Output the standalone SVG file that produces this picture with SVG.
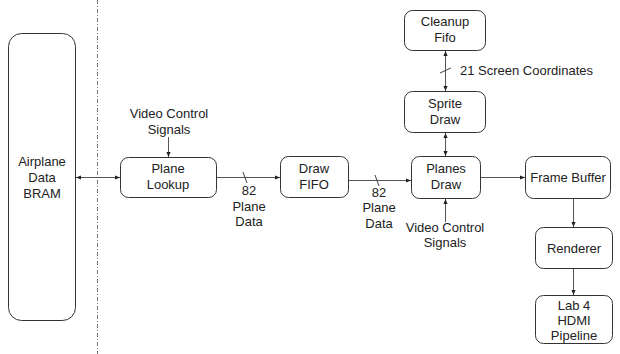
<svg xmlns="http://www.w3.org/2000/svg" width="620" height="354" viewBox="0 0 620 354">
<defs>
<marker id="ah" viewBox="0 0 6 6" refX="6" refY="3" markerWidth="5" markerHeight="5" orient="auto-start-reverse" markerUnits="userSpaceOnUse">
<path d="M0,0.5 L6,3 L0,5.5 z" fill="#222"/>
</marker>
<style>
.n{fill:#fff;stroke:#333;stroke-width:1}
.t{font-family:"Liberation Sans",Arial,sans-serif;font-size:13px;fill:#222;text-anchor:middle}
.l{fill:none;stroke:#555;stroke-width:1}
.a{marker-end:url(#ah)}
.b{marker-start:url(#ah);marker-end:url(#ah)}
.s{stroke:#444;stroke-width:1}
</style>
</defs>
<rect width="620" height="354" fill="#fff"/>
<line x1="97.5" y1="0" x2="97.5" y2="354" stroke="#777" stroke-width="1" stroke-dasharray="4,2,1,2"/>

<g id="bram"><rect class="n" x="8.5" y="33.5" width="67" height="287" rx="13"/>
<text class="t" x="42" y="166">Airplane</text><text class="t" x="42" y="182">Data</text><text class="t" x="42" y="198">BRAM</text></g>

<g id="lookup"><rect class="n" x="120.5" y="157.5" width="96" height="40" rx="8"/>
<text class="t" x="168" y="173">Plane</text><text class="t" x="168" y="189">Lookup</text></g>

<g id="drawfifo"><rect class="n" x="280.5" y="156.5" width="68" height="41" rx="8"/>
<text class="t" x="314" y="173">Draw</text><text class="t" x="314" y="189">FIFO</text></g>

<g id="planesdraw"><rect class="n" x="411.5" y="156.5" width="69" height="42" rx="8"/>
<text class="t" x="446" y="173">Planes</text><text class="t" x="446" y="189">Draw</text></g>

<g id="framebuffer"><rect class="n" x="525.5" y="156.5" width="85" height="42" rx="8"/>
<text class="t" x="568" y="182">Frame Buffer</text></g>

<g id="renderer"><rect class="n" x="535.5" y="227.5" width="77" height="41" rx="8"/>
<text class="t" x="574" y="253">Renderer</text></g>

<g id="hdmi"><rect class="n" x="535.5" y="295.5" width="77" height="48" rx="8"/>
<text class="t" x="574" y="310">Lab 4</text><text class="t" x="574" y="325">HDMI</text><text class="t" x="574" y="340">Pipeline</text></g>

<g id="cleanup"><rect class="n" x="404.5" y="10.5" width="81" height="40" rx="8"/>
<text class="t" x="445" y="26">Cleanup</text><text class="t" x="445" y="42">Fifo</text></g>

<g id="sprite"><rect class="n" x="404.5" y="91.5" width="81" height="41" rx="8"/>
<text class="t" x="445" y="108">Sprite</text><text class="t" x="445" y="124">Draw</text></g>

<g id="connectors">
<line class="l b" x1="76" y1="177.5" x2="120" y2="177.5"/>
<line class="l a" x1="168.5" y1="137" x2="168.5" y2="157"/>
<line class="l a" x1="217" y1="177.5" x2="280" y2="177.5"/>
<line class="s" x1="243" y1="172" x2="247" y2="183"/>
<line class="l a" x1="349" y1="180.5" x2="411" y2="180.5"/>
<line class="s" x1="375" y1="175" x2="379" y2="186"/>
<line class="l a" x1="481" y1="177.5" x2="525" y2="177.5"/>
<line class="l a" x1="445.5" y1="222" x2="445.5" y2="199"/>
<line class="l b" x1="445.5" y1="133" x2="445.5" y2="156"/>
<line class="l b" x1="445.5" y1="51" x2="445.5" y2="91"/>
<line class="s" x1="440" y1="73" x2="451" y2="68"/>
<line class="l a" x1="573.5" y1="199" x2="573.5" y2="227"/>
<line class="l a" x1="573.5" y1="269" x2="573.5" y2="295"/>
</g>

<g id="labels">
<text class="t" x="169" y="118">Video Control</text><text class="t" x="169" y="134">Signals</text>
<text class="t" x="249" y="195">82</text><text class="t" x="249" y="211">Plane</text><text class="t" x="249" y="226">Data</text>
<text class="t" x="379" y="197">82</text><text class="t" x="379" y="212">Plane</text><text class="t" x="379" y="228">Data</text>
<text class="t" x="445" y="232">Video Control</text><text class="t" x="445" y="247">Signals</text>
<text class="t" x="460" y="75" text-anchor="start" style="text-anchor:start">21 Screen Coordinates</text>
</g>
</svg>
